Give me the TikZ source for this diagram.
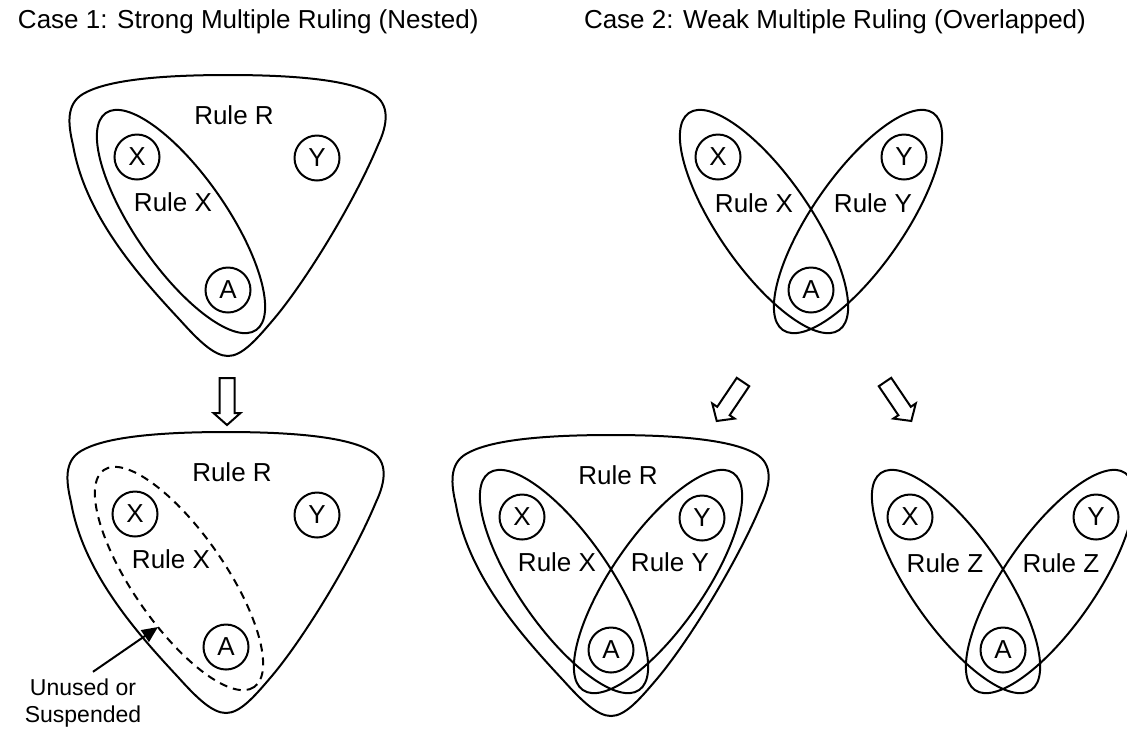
\documentclass[tikz,border=0pt]{standalone}
\usepackage{fontspec}
\setmainfont{Liberation Sans}
\usetikzlibrary{arrows.meta}

\tikzset{
  hull/.pic={
    \draw (0,-215) .. controls (80,-215) and (125,-208) .. (145,-196)
      .. controls (162,-186) and (160,-166) .. (150,-145)
      .. controls (125,-85) and (75,-5) .. (45,30)
      .. controls (28,50) and (14,66) .. (0,66)
      .. controls (-14,66) and (-30,50) .. (-48,30)
      .. controls (-90,-15) and (-143,-75) .. (-155,-145)
      .. controls (-160,-166) and (-162,-186) .. (-145,-196)
      .. controls (-125,-208) and (-80,-215) .. (0,-215) -- cycle;
  },
  hollowarrow/.pic={
    \draw[line join=miter] (-7.5,0) -- (-7.5,35) -- (-13.5,35) -- (0,47)
      -- (13.5,35) -- (7.5,35) -- (7.5,0) -- cycle;
  }
}

\begin{document}
\begin{tikzpicture}[x=0.5pt, y=-0.5pt, line width=1pt,
  font=\fontsize{13pt}{15.6pt}\selectfont,
  member/.style={circle, draw, minimum size=22.5pt, inner sep=0pt},
  lbl/.style={inner sep=0pt}]
\useasboundingbox (0,0) rectangle (1127,730);

\node[anchor=base west, inner sep=0pt] (case1) at (17,28) {Case 1: Strong Multiple Ruling (Nested)};
\node[anchor=base west, inner sep=0pt] (case2) at (583,28) {Case 2: Weak Multiple Ruling (Overlapped)};

% case 1, before
\begin{scope}[shift={(228,290)}]
  \pic {hull};
  \draw[rotate around={-55.3:(-47,-68.5)}] (-47,-68.5) ellipse [x radius=132, y radius=46];
  \node[lbl] (r1) at (6,-175) {Rule R};
  \node[lbl] (rx1) at (-55,-88) {Rule X};
  \node[member] (x1) at (-91,-133) {X};
  \node[member] (y1) at (89,-132) {Y};
  \node[member] (a1) at (0,0) {A};
\end{scope}

\pic at (227,378) {hollowarrow};

% case 1, after
\begin{scope}[shift={(226,647)}]
  \pic {hull};
  \draw[dashed, dash pattern=on 4pt off 3pt, rotate around={-55.3:(-47,-68.5)}] (-47,-68.5) ellipse [x radius=132, y radius=46];
  \node[lbl] (r2) at (6,-175) {Rule R};
  \node[lbl] (rx2) at (-55,-88) {Rule X};
  \node[member] (x2) at (-91,-133) {X};
  \node[member] (y2) at (91,-132) {Y};
  \node[member] (a2) at (0,0) {A};
\end{scope}

\node[align=center, inner sep=0pt, font=\fontsize{11.5pt}{13.5pt}\selectfont] (unused) at (83,703) {Unused or\\Suspended};
\coordinate (ptr) at (158,627);
\draw[-{Triangle[length=8pt,width=7pt]}] ([shift={(10,-6)}]unused.north) -- (ptr);

% case 2, before
\begin{scope}[shift={(811,290)}]
  \draw[rotate around={-55.3:(-47,-68.5)}] (-47,-68.5) ellipse [x radius=132, y radius=46];
  \draw[rotate around={55.3:(47,-68.5)}] (47,-68.5) ellipse [x radius=132, y radius=46];
  \node[lbl] (rx3) at (-57,-87) {Rule X};
  \node[lbl] (ry3) at (62,-87) {Rule Y};
  \node[member] (x3) at (-93,-133) {X};
  \node[member] (y3) at (93,-133) {Y};
  \node[member] (a3) at (0,0) {A};
\end{scope}

\pic[rotate=-34] at (743,382) {hollowarrow};
\pic[rotate=34] at (885,382) {hollowarrow};

% case 2, merged
\begin{scope}[shift={(611,650)}]
  \pic {hull};
  \draw[rotate around={-55.3:(-47,-68.5)}] (-47,-68.5) ellipse [x radius=132, y radius=46];
  \draw[rotate around={55.3:(47,-68.5)}] (47,-68.5) ellipse [x radius=132, y radius=46];
  \node[lbl] (r4) at (7,-175) {Rule R};
  \node[lbl] (rx4) at (-54,-88) {Rule X};
  \node[lbl] (ry4) at (59,-88) {Rule Y};
  \node[member] (x4) at (-89,-133) {X};
  \node[member] (y4) at (91,-132) {Y};
  \node[member] (a4) at (0,0) {A};
\end{scope}

% case 2, renamed
\begin{scope}[shift={(1003,650)}]
  \draw[rotate around={-55.3:(-47,-68.5)}] (-47,-68.5) ellipse [x radius=132, y radius=46];
  \draw[rotate around={55.3:(47,-68.5)}] (47,-68.5) ellipse [x radius=132, y radius=46];
  \node[lbl] (rz5) at (-58,-87) {Rule Z};
  \node[lbl] (rz6) at (58,-87) {Rule Z};
  \node[member] (x5) at (-93,-133) {X};
  \node[member] (y5) at (93,-133) {Y};
  \node[member] (a5) at (0,0) {A};
\end{scope}
\end{tikzpicture}
\end{document}
